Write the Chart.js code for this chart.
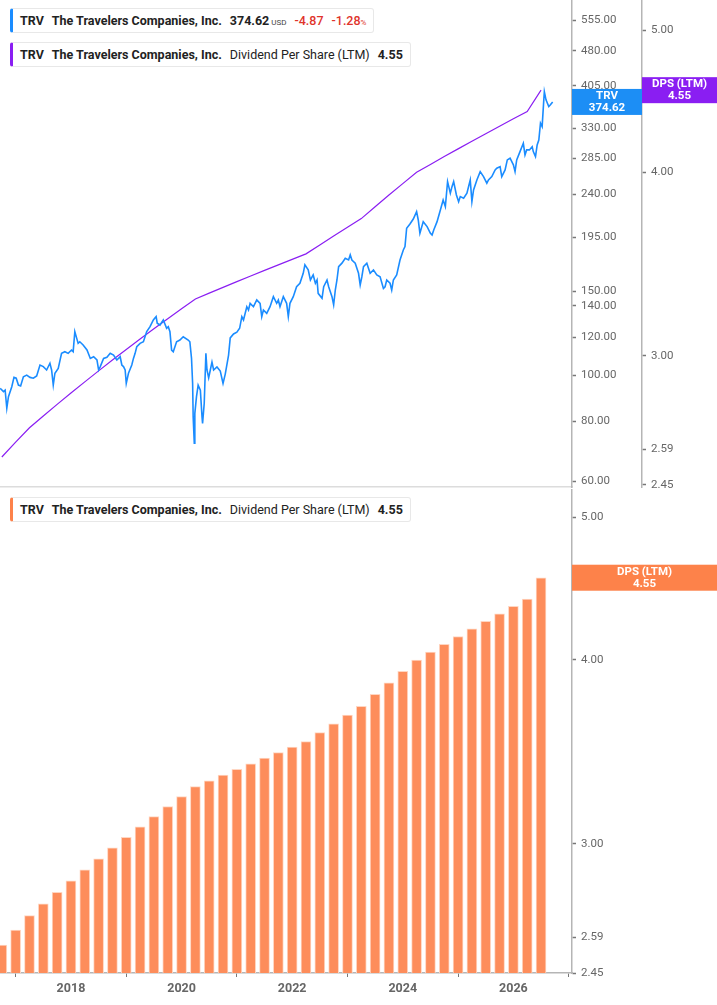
<!DOCTYPE html>
<html>
<head>
<meta charset="utf-8">
<script src="https://cdn.jsdelivr.net/npm/chart.js@4.4.0/dist/chart.umd.min.js"></script>
<style>
  body { margin: 0; background: #fff; font-family: Roboto, "Noto Sans", sans-serif; }
  #wrap { position: relative; width: 717px; height: 1005px; overflow: hidden; }
  #topChart { position: absolute; left: 0; top: 0; }
  #botChart { position: absolute; left: 0; top: 488px; }
  .legend {
    position: absolute; left: 10px; height: 23px; line-height: 23px;
    background: #fff; border: 1px solid #e8e8e8; border-left: 3px solid;
    border-radius: 3px; padding: 0 7px 0 7px; font-size: 12.5px; color: #222;
    white-space: nowrap;
  }
  .legend span { margin-right: 8px; }
  .legend span:last-child { margin-right: 0; }
  .b { font-weight: 700; }
  .small { font-size: 8px; font-weight: 400; color: #444; }
  .red { color: #e0342b; font-weight: 500; }
</style>
</head>
<body>
<div id="wrap">
  <canvas id="topChart" width="717" height="488"></canvas>
  <canvas id="botChart" width="717" height="517"></canvas>

  <div class="legend" style="top:8px; border-left-color:#1a8cff;">
    <span class="b">TRV</span><span class="b">The Travelers Companies, Inc.</span><span class="b" style="margin-right:2px">374.62</span><span class="small">USD</span><span class="red">-4.87</span><span class="red">-1.28<span class="small" style="color:#e0342b">%</span></span>
  </div>
  <div class="legend" style="top:42px; border-left-color:#8a1ef2;">
    <span class="b">TRV</span><span class="b">The Travelers Companies, Inc.</span><span>Dividend Per Share (LTM)</span><span class="b">4.55</span>
  </div>
  <div class="legend" style="top:497px; border-left-color:#fd824a;">
    <span class="b">TRV</span><span class="b">The Travelers Companies, Inc.</span><span>Dividend Per Share (LTM)</span><span class="b">4.55</span>
  </div>
</div>

<script>
// quarter ends, decimal years
const dpsDates = [2016.75, 2017.0, 2017.25, 2017.5, 2017.75, 2018.0, 2018.25, 2018.5, 2018.75, 2019.0,
  2019.25, 2019.5, 2019.75, 2020.0, 2020.25, 2020.5, 2020.75, 2021.0, 2021.25, 2021.5,
  2021.75, 2022.0, 2022.25, 2022.5, 2022.75, 2023.0, 2023.25, 2023.5, 2023.75, 2024.0,
  2024.25, 2024.5, 2024.75, 2025.0, 2025.25, 2025.5, 2025.75, 2026.0, 2026.25, 2026.5];
// dividend per share, last twelve months
const dpsValues = [2.56, 2.62, 2.68, 2.73, 2.78, 2.83, 2.88, 2.93, 2.98, 3.03,
  3.08, 3.13, 3.18, 3.23, 3.28, 3.31, 3.34, 3.37, 3.40, 3.43,
  3.46, 3.49, 3.52, 3.57, 3.62, 3.67, 3.72, 3.79, 3.86, 3.93,
  4.00, 4.05, 4.10, 4.15, 4.20, 4.25, 4.30, 4.35, 4.40, 4.55];

// share price
const priceDates = [2016.72, 2016.78, 2016.81, 2016.84, 2016.87, 2016.93, 2016.97, 2017.01, 2017.05, 2017.09,
  2017.14, 2017.20, 2017.26, 2017.32, 2017.38, 2017.44, 2017.50, 2017.56, 2017.62, 2017.65,
  2017.68, 2017.71, 2017.77, 2017.83, 2017.89, 2017.95, 2018.01, 2018.04, 2018.07, 2018.13,
  2018.16, 2018.22, 2018.29, 2018.35, 2018.41, 2018.47, 2018.50, 2018.53, 2018.59, 2018.65,
  2018.71, 2018.77, 2018.83, 2018.89, 2018.92, 2018.95, 2018.98, 2019.00, 2019.04, 2019.10,
  2019.13, 2019.16, 2019.19, 2019.25, 2019.31, 2019.37, 2019.43, 2019.49, 2019.54, 2019.56,
  2019.61, 2019.67, 2019.73, 2019.76, 2019.79, 2019.82, 2019.85, 2019.91, 2019.97, 2020.03,
  2020.12, 2020.15, 2020.18, 2020.20, 2020.21, 2020.23, 2020.24, 2020.27, 2020.30, 2020.34,
  2020.37, 2020.38, 2020.41, 2020.44, 2020.46, 2020.49, 2020.52, 2020.55, 2020.58, 2020.64,
  2020.70, 2020.75, 2020.79, 2020.85, 2020.88, 2020.94, 2021.00, 2021.05, 2021.09, 2021.12,
  2021.18, 2021.21, 2021.24, 2021.30, 2021.36, 2021.42, 2021.45, 2021.48, 2021.54, 2021.60,
  2021.66, 2021.72, 2021.75, 2021.78, 2021.84, 2021.90, 2021.93, 2021.96, 2022.02, 2022.08,
  2022.14, 2022.20, 2022.23, 2022.29, 2022.33, 2022.38, 2022.42, 2022.45, 2022.47, 2022.54,
  2022.57, 2022.63, 2022.66, 2022.72, 2022.75, 2022.78, 2022.81, 2022.84, 2022.90, 2022.96,
  2023.02, 2023.05, 2023.08, 2023.14, 2023.20, 2023.23, 2023.26, 2023.29, 2023.35, 2023.41,
  2023.47, 2023.53, 2023.59, 2023.65, 2023.68, 2023.71, 2023.77, 2023.80, 2023.83, 2023.89,
  2023.95, 2024.01, 2024.04, 2024.07, 2024.13, 2024.19, 2024.25, 2024.28, 2024.31, 2024.37,
  2024.44, 2024.50, 2024.53, 2024.56, 2024.62, 2024.68, 2024.73, 2024.77, 2024.81, 2024.86,
  2024.89, 2024.92, 2024.97, 2025.01, 2025.04, 2025.10, 2025.16, 2025.22, 2025.25, 2025.28,
  2025.34, 2025.40, 2025.46, 2025.52, 2025.55, 2025.61, 2025.67, 2025.70, 2025.76, 2025.79,
  2025.85, 2025.89, 2025.94, 2026.00, 2026.03, 2026.06, 2026.12, 2026.18, 2026.21, 2026.24,
  2026.29, 2026.34, 2026.36, 2026.40, 2026.43, 2026.46, 2026.49, 2026.52, 2026.55, 2026.56,
  2026.59, 2026.64, 2026.67, 2026.71];
const priceValues = [93.9, 92.4, 93.1, 85.3, 90.2, 94.6, 99.0, 98.6, 95.4, 95.0,
  99.3, 100.1, 99.0, 98.6, 99.7, 105.1, 104.3, 102.6, 106.0, 102.6,
  95.4, 101.0, 103.4, 111.2, 112.1, 111.2, 113.0, 112.1, 123.5, 116.7,
  117.6, 115.8, 113.0, 108.5, 109.4, 107.7, 102.6, 104.3, 108.5, 109.1,
  111.2, 110.3, 107.7, 109.4, 105.1, 104.3, 102.6, 96.2, 101.0, 105.1,
  108.5, 111.2, 114.8, 116.7, 117.6, 123.5, 126.5, 130.7, 132.8, 128.6,
  127.5, 130.7, 125.5, 126.5, 123.5, 113.0, 112.1, 117.6, 118.6, 120.5,
  118.6, 117.6, 108.5, 96.2, 81.8, 72.0, 83.2, 90.2, 95.4, 93.1,
  81.8, 79.3, 87.4, 111.2, 102.6, 98.8, 102.6, 106.6, 102.6, 104.1,
  102.1, 96.2, 100.6, 110.3, 119.8, 122.1, 123.2, 125.5, 132.8, 130.7,
  139.3, 137.1, 141.6, 139.3, 143.9, 141.6, 132.8, 137.1, 134.9, 139.3,
  146.2, 141.6, 143.9, 139.3, 146.2, 141.6, 132.8, 141.6, 146.2, 153.4,
  156.0, 163.7, 170.5, 166.4, 158.5, 162.4, 156.0, 158.5, 148.6, 145.1,
  153.4, 158.5, 153.4, 146.2, 140.5, 151.0, 158.5, 169.1, 171.9, 176.0,
  174.6, 178.9, 174.6, 171.9, 163.7, 154.7, 161.0, 169.1, 171.9, 163.7,
  166.4, 162.4, 161.0, 152.2, 153.4, 158.5, 156.0, 151.0, 158.5, 162.4,
  174.6, 183.2, 186.2, 203.5, 207.7, 212.8, 220.5, 211.8, 198.6, 210.1,
  205.1, 198.6, 196.9, 201.8, 210.1, 222.3, 233.3, 225.9, 254.9, 241.0,
  248.8, 254.9, 239.0, 231.4, 237.1, 235.3, 241.0, 257.0, 231.4, 244.9,
  257.0, 267.5, 261.2, 253.0, 257.0, 261.2, 269.8, 271.9, 274.1, 261.2,
  269.8, 283.1, 285.4, 276.4, 267.5, 283.1, 294.7, 306.8, 290.0, 297.1,
  297.1, 301.8, 294.7, 287.6, 304.3, 311.7, 338.0, 332.5, 378.4, 393.7,
  378.4, 366.3, 369.4, 374.62];

const priceTicks = [60, 80, 100, 120, 140, 150, 195, 240, 285, 330, 405, 480, 555];
const dpsTicks = [2.45, 2.59, 3, 4, 5];
const yearTicks = [2018, 2020, 2022, 2024, 2026];

const BLUE = "#1a8cff", PURPLE = "#8a1ef2", ORANGE = "#fd8d5b", ORANGE_TAG = "#fd824a";
const X_MIN = 2016.717, X_MAX = 2027.06;

const tickFont = { family: "Roboto", size: 11.5 };
const toPts = (xs, ys) => xs.map((x, i) => ({ x: x, y: ys[i] }));

// right axis helper
function rightAxis(min, max, ticks, width, weight) {
    return {
        type: "logarithmic", position: "right", min: min, max: max, weight: weight, bounds: "data",
        afterBuildTicks: s => { s.ticks = ticks.map(v => ({ value: v })); },
        afterFit: s => { s.width = width; s.paddingTop = 0; s.paddingBottom = 0; },
        ticks: { callback: v => Number(v).toFixed(2), color: "#666", font: tickFont, padding: 5, autoSkip: false },
        grid: { drawOnChartArea: false, tickLength: 4, tickColor: "#777", tickWidth: 1.5 },
        border: { color: "#b5b5b5", width: 1.5 }
    };
}

// value tags on the axes
function tag(ctx, scale, value, color, line1, line2) {
    const y = scale.getPixelForValue(value);
    ctx.save();
    ctx.fillStyle = color;
    ctx.fillRect(scale.left, y - 13, scale.right - scale.left, 26);
    ctx.fillStyle = "#fff";
    ctx.font = "bold 11.5px Roboto";
    ctx.textAlign = "center";
    ctx.textBaseline = "middle";
    const cx = (scale.left + scale.right) / 2;
    ctx.fillText(line1, cx, y - 6);
    ctx.fillText(line2, cx, y + 6);
    ctx.restore();
}

const topTags = {
    id: "topTags",
    afterDraw(chart) {
        const ctx = chart.ctx;
        tag(ctx, chart.scales.yP, priceValues[priceValues.length - 1], "#1c8ef5", "TRV", "374.62");
        tag(ctx, chart.scales.yD, dpsValues[dpsValues.length - 1], PURPLE, "DPS (LTM)", "4.55");
    }
};
const botTags = {
    id: "botTags",
    afterDraw(chart) {
        tag(chart.ctx, chart.scales.y, dpsValues[dpsValues.length - 1], ORANGE_TAG, "DPS (LTM)", "4.55");
    }
};

new Chart(document.getElementById("topChart"), {
    type: "line",
    data: {
        datasets: [
            { data: toPts(priceDates, priceValues), yAxisID: "yP", borderColor: BLUE, borderWidth: 1.6, pointRadius: 0, tension: 0 },
            { data: toPts(dpsDates, dpsValues), yAxisID: "yD", borderColor: PURPLE, borderWidth: 1.2, pointRadius: 0, tension: 0 }
        ]
    },
    options: {
        responsive: false, animation: false, events: [],
        layout: { padding: 0 },
        plugins: { legend: { display: false }, tooltip: { enabled: false } },
        scales: {
            x: {
                type: "linear", min: X_MIN, max: X_MAX,
                ticks: { display: false }, grid: { display: false },
                border: { color: "#dcdcdc", width: 1.5 },
                afterFit: s => { s.height = 1; s.paddingLeft = 0; s.paddingRight = 0; }
            },
            yP: rightAxis(58.3, 613, priceTicks, 70, 0),
            yD: rightAxis(2.4423, 5.241, dpsTicks, 75, 1)
        }
    },
    plugins: [topTags]
});

new Chart(document.getElementById("botChart"), {
    type: "bar",
    data: {
        datasets: [{
            data: toPts(dpsDates, dpsValues),
            backgroundColor: ORANGE, borderColor: "#ffd6c2",
            borderWidth: { top: 1, left: 1, right: 1, bottom: 0 },
            barThickness: 10
        }]
    },
    options: {
        responsive: false, animation: false, events: [],
        layout: { padding: { top: 2 } },
        plugins: { legend: { display: false }, tooltip: { enabled: false } },
        scales: {
            x: {
                type: "linear", min: X_MIN, max: X_MAX, offset: false,
                afterBuildTicks: s => { s.ticks = yearTicks.map(v => ({ value: v })); },
                afterFit: s => { s.height = 32; s.paddingLeft = 0; s.paddingRight = 0; },
                ticks: { callback: v => String(v), color: "#666", font: { family: "Roboto", size: 12.5, weight: "bold" }, padding: 4, autoSkip: false, maxRotation: 0 },
                grid: { drawOnChartArea: false, tickLength: 4, tickColor: "#777" },
                border: { color: "#b5b5b5", width: 1.5 }
            },
            y: rightAxis(2.45, 5.22, dpsTicks, 145, 0)
        }
    },
    plugins: [botTags]
});
</script>
</body>
</html>
